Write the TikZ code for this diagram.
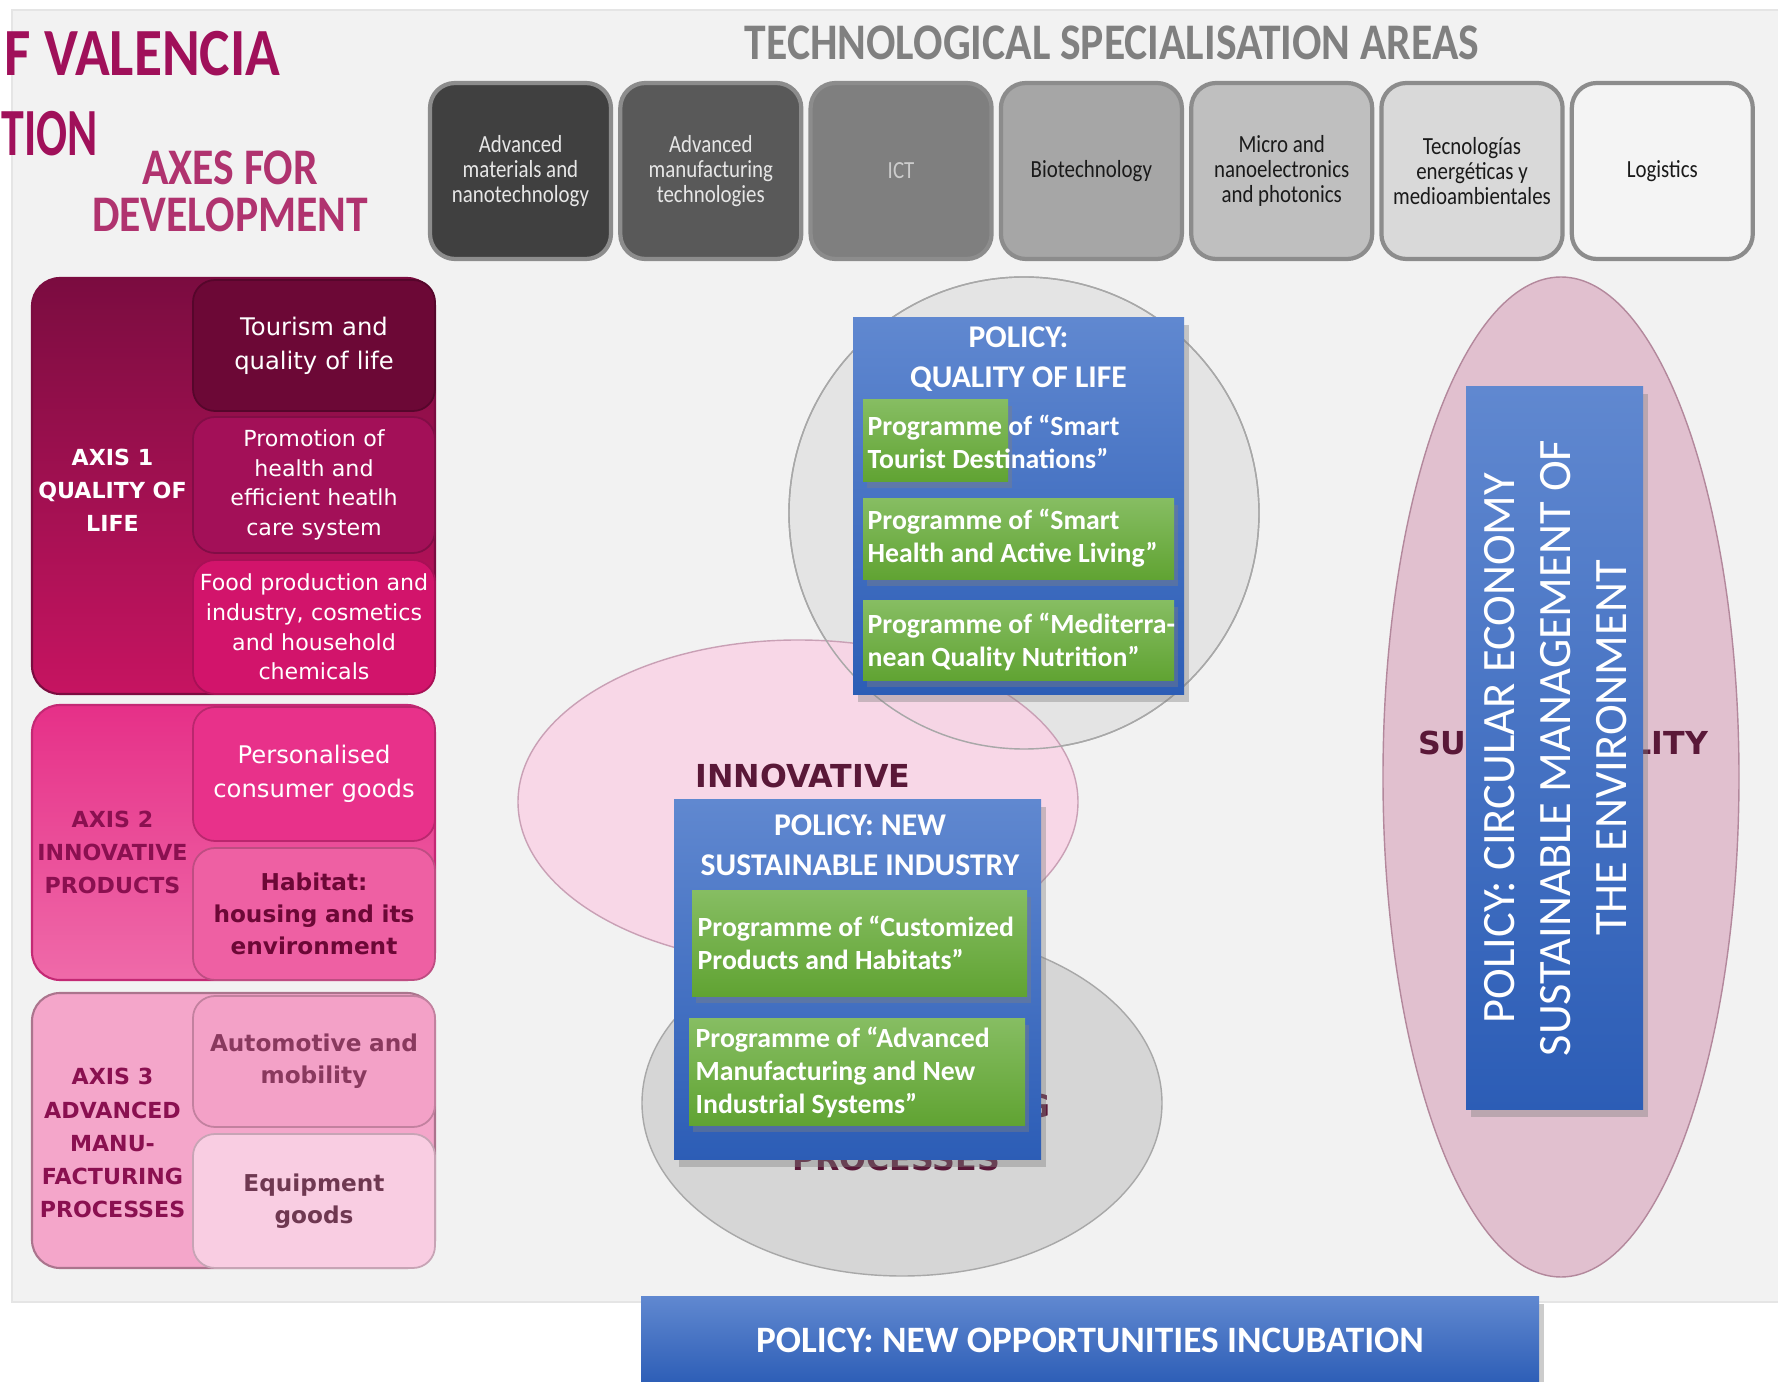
\documentclass[tikz,border=0pt]{standalone}
\usepackage{fontspec}
\setmainfont{Carlito}
\newfontfamily\condfont[FakeStretch=0.85]{Carlito}
\newfontfamily\axfont{DejaVu Sans}
\usetikzlibrary{shadows}

\definecolor{panel}{HTML}{F2F2F2}
\definecolor{titlec}{HTML}{A0105A}
\definecolor{axesc}{HTML}{B0336F}
\definecolor{headc}{HTML}{808080}
\definecolor{tA}{HTML}{404040}
\definecolor{tB}{HTML}{595959}
\definecolor{tC}{HTML}{7F7F7F}
\definecolor{tD}{HTML}{A6A6A6}
\definecolor{tE}{HTML}{BFBFBF}
\definecolor{tF}{HTML}{D9D9D9}
\definecolor{tG}{HTML}{F4F4F4}
\definecolor{tlight}{HTML}{E6E6E6}
\definecolor{tict}{HTML}{CCCCCC}
\definecolor{tdark}{HTML}{1A1A1A}
\definecolor{techline}{HTML}{8C8C8C}
\definecolor{ax1t}{HTML}{7B0C40}
\definecolor{ax1b}{HTML}{C61461}
\definecolor{s11}{HTML}{6C0836}
\definecolor{s12}{HTML}{A31058}
\definecolor{s13}{HTML}{D2146B}
\definecolor{ax2t}{HTML}{E63088}
\definecolor{ax2b}{HTML}{EF6AA9}
\definecolor{s21}{HTML}{E8318A}
\definecolor{s22}{HTML}{EE60A3}
\definecolor{ax3}{HTML}{F4A6CA}
\definecolor{s31}{HTML}{F3A1C7}
\definecolor{s32}{HTML}{F9CDE2}
\definecolor{axdark}{HTML}{8A1050}
\definecolor{ringgray}{HTML}{E4E4E4}
\definecolor{ringline}{HTML}{A8A8A8}
\definecolor{innopink}{HTML}{FAD3E6}
\definecolor{innoline}{HTML}{C9A0B5}
\definecolor{manugray}{HTML}{D3D3D3}
\definecolor{sustpink}{HTML}{E1C0CF}
\definecolor{sustline}{HTML}{B3889C}
\definecolor{ringtext}{HTML}{5A1838}
\definecolor{bluetop}{HTML}{6088D0}
\definecolor{bluebot}{HTML}{2C5DB6}
\definecolor{greentop}{HTML}{86BD62}
\definecolor{greenbot}{HTML}{60A332}

\tikzset{
  title/.style={inner sep=0pt, font=\condfont\bfseries\fontsize{19.2}{23}\selectfont, text=titlec},
  axes/.style={align=center, font=\condfont\bfseries\fontsize{14.6}{13.4}\selectfont, text=axesc},
  techhead/.style={font=\condfont\bfseries\fontsize{14.6}{16}\selectfont, text=headc},
  techbox/.style={rounded corners=2.5mm, minimum width=18.1mm, minimum height=17.6mm,
    align=center, draw=techline, line width=1.2pt, font=\condfont\fontsize{7}{7}\selectfont},
  axbox/.style={rounded corners=2.8mm, minimum width=40.3mm, line width=0.6pt},
  subbox/.style={rounded corners=2.2mm, text width=23.2mm, inner xsep=0.5mm, align=center, fill=#1,
    draw=#1!80!black, line width=0.5pt, font=\axfont\fontsize{6.3}{8.4}\selectfont},
  big/.style={font=\axfont\fontsize{6.9}{9.6}\selectfont},
  bigb/.style={font=\axfont\bfseries\fontsize{6.6}{9.2}\selectfont},
  axlabel/.style={align=center, font=\axfont\bfseries\fontsize{6.3}{9.4}\selectfont},
  ringlabel/.style={align=center, text=ringtext, font=\axfont\bfseries\fontsize{9}{15}\selectfont},
  policy/.style={top color=bluetop, bottom color=bluebot, text=white,
    drop shadow={shadow xshift=0.5mm, shadow yshift=-0.7mm, opacity=.4}},
  ptitle/.style={align=center, text=white, font=\bfseries\fontsize{9}{11.4}\selectfont},
  prog/.style={top color=greentop, bottom color=greenbot,
    drop shadow={shadow xshift=0.4mm, shadow yshift=-0.6mm, opacity=.4}},
  progtext/.style={inner sep=0pt, align=left, text=white, font=\bfseries\fontsize{7.9}{9.4}\selectfont}
}

\begin{document}
\begin{tikzpicture}[x=0.1mm, y=-0.1mm]
  \useasboundingbox (0,0) rectangle (1778,1382);
  \fill[white] (0,0) rectangle (1778,1382);
  \fill[panel, draw=black!10] (12,10) rectangle (1800,1302);

  \node[title, anchor=east] (val) at (281,54) {F VALENCIA};
  \node[title, anchor=west] (tion) at (1,134) {\scalebox{0.8}[1]{TION}};
  \node[axes] (axes) at (230,191) {AXES FOR\\DEVELOPMENT};
  \node[techhead] (tsa) at (1112,43) {TECHNOLOGICAL SPECIALISATION AREAS};

  \foreach \i/\fc/\tc/\nom/\lbl in {0/tA/tlight/amn/{Advanced\\materials and\\nanotechnology},
      1/tB/tlight/amt/{Advanced\\manufacturing\\technologies}, 2/tC/tict/ict/ICT,
      3/tD/tdark/bio/Biotechnology, 4/tE/tdark/mnp/{Micro and\\nanoelectronics\\and photonics},
      5/tF/tdark/tem/{Tecnologías\\energéticas y\\medioambientales}, 6/tG/tdark/log/Logistics}
    \node[techbox, fill=\fc, text=\tc] (\nom) at (520.5+190.3*\i,171) {\lbl};

  \node[axbox, top color=ax1t, bottom color=ax1b, draw=ax1t, minimum height=41.6mm] (ax1) at (233.5,486) {};
  \node[subbox=s11, big, minimum height=13.1mm, text=white] (tour) at (314,345.5) {Tourism and\\quality of life};
  \node[subbox=s12, minimum height=13.6mm, text=white] (heal) at (314,485) {Promotion of\\health and\\efficient heatlh\\care system};
  \node[subbox=s13, minimum height=13.4mm, text=white] (food) at (314,627) {Food production and\\industry, cosmetics\\and household\\chemicals};
  \node[axlabel, text=white] (lab1) at (112.5,490) {AXIS 1\\QUALITY OF\\LIFE};

  \node[axbox, top color=ax2t, bottom color=ax2b, draw=ax2t!85!black, minimum height=27.5mm] (ax2) at (233.5,842.5) {};
  \node[subbox=s21, big, minimum height=13.4mm, text=white] (pers) at (314,774) {Personalised\\consumer goods};
  \node[subbox=s22, bigb, minimum height=13.2mm, text=s11] (habi) at (314,914) {Habitat:\\housing and its\\environment};
  \node[axlabel, text=axdark] (lab2) at (112.5,852) {AXIS 2\\INNOVATIVE\\PRODUCTS};

  \node[axbox, fill=ax3, draw=ax3!70!black, minimum height=27.5mm] (ax3) at (233.5,1130.5) {};
  \node[subbox=s31, bigb, minimum height=13.1mm, text=s11!80] (auto) at (314,1061.5) {Automotive and\\mobility};
  \node[subbox=s32, bigb, minimum height=13.4mm, text=s11!70!black!80] (equi) at (314,1201) {Equipment\\goods};
  \node[axlabel, text=axdark] (lab3) at (112.5,1143) {AXIS 3\\ADVANCED\\MANU-\\FACTURING\\PROCESSES};

  \draw[ringline, fill=ringgray] (1024,513) ellipse [x radius=235, y radius=236];
  \draw[innoline, fill=innopink, fill opacity=.85] (798,802) ellipse [x radius=280, y radius=162];
  \draw[ringline] (1024,513) ellipse [x radius=235, y radius=236];
  \draw[ringline, fill=manugray, fill opacity=.9] (902,1103) ellipse [x radius=260, y radius=173];
  \draw[sustline, fill=sustpink] (1561,777) ellipse [x radius=178, y radius=500];

  \node[ringlabel] (inno) at (803,776) {INNOVATIVE};
  \node[ringlabel] (manu) at (896,1106) {MANUFACTURING};
  \node[ringlabel] (proc) at (896,1159) {PROCESSES};
  \node[ringlabel] (sust) at (1563,743) {SUSTAINABILITY};

  \node[policy, minimum width=33.1mm, minimum height=37.7mm] (pq) at (1018.5,506.5) {};
  \node[ptitle] (pqt) at (1018.5,359) {POLICY:\\QUALITY OF LIFE};
  \node[prog, minimum width=14.5mm, minimum height=8.2mm] (ga) at (935.5,441) {};
  \node[progtext, anchor=west] (gat) at (867,441.5) {Programme of “Smart\\Tourist Destinations”};
  \node[prog, minimum width=31.1mm, minimum height=8.1mm] (gb) at (1018.5,539.5) {};
  \node[progtext, anchor=west] (gbt) at (867,538.5) {Programme of “Smart\\Health and Active Living”};
  \node[prog, minimum width=31.1mm, minimum height=8mm] (gc) at (1018.5,641) {};
  \node[progtext, anchor=west] (gct) at (867,641.5) {Programme of “Mediterra-\\nean Quality Nutrition”};

  \node[policy, minimum width=36.7mm, minimum height=36mm] (pn) at (857.5,980) {};
  \node[ptitle] (pnt) at (860,845) {POLICY: NEW\\SUSTAINABLE INDUSTRY};
  \node[prog, minimum width=33.5mm, minimum height=10.6mm] (gd) at (859.5,944) {};
  \node[progtext, anchor=west] (gdt) at (697,942.5) {Programme of “Customized\\Products and Habitats”};
  \node[prog, minimum width=33.6mm, minimum height=10.7mm] (ge) at (857,1072.5) {};
  \node[progtext, anchor=west] (get) at (695,1072.5) {Programme of “Advanced\\Manufacturing and New\\Industrial Systems”};

  \node[policy, minimum width=17.7mm, minimum height=72.3mm] (pc) at (1554.5,748.5) {};
  \node[rotate=90, align=center, text=white, font=\fontsize{13.2}{16}\selectfont] (pct) at (1555.5,748) {POLICY: CIRCULAR ECONOMY\\SUSTAINABLE MANAGEMENT OF\\THE ENVIRONMENT};

  \node[policy, minimum width=89.8mm, minimum height=8.8mm, anchor=north,
    font=\bfseries\fontsize{10.6}{12}\selectfont] (pi) at (1090,1296) {POLICY: NEW OPPORTUNITIES INCUBATION};
\end{tikzpicture}
\end{document}
